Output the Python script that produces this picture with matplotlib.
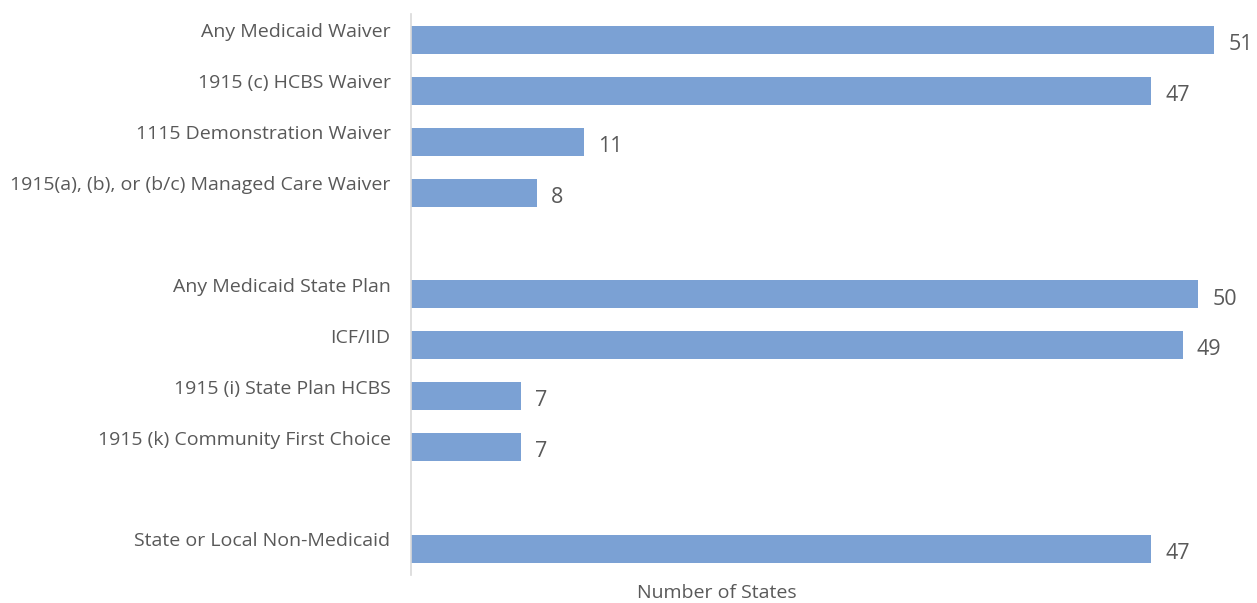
import matplotlib
matplotlib.use('Agg')
import matplotlib.pyplot as plt

plt.rcParams['font.family'] = ['Open Sans', 'DejaVu Sans']

# funding sources, top to bottom; None marks a spacer row between groups
categories = [
    "Any Medicaid Waiver",
    "1915 (c) HCBS Waiver",
    "1115 Demonstration Waiver",
    "1915(a), (b), or (b/c) Managed Care Waiver",
    None,
    "Any Medicaid State Plan",
    "ICF/IID",
    "1915 (i) State Plan HCBS",
    "1915 (k) Community First Choice",
    None,
    "State or Local Non-Medicaid",
]
values = [51, 47, 11, 8, None, 50, 49, 7, 7, None, 47]
x_label = "Number of States"

bar_color = '#7BA1D4'
text_color = '#595959'

fig = plt.figure(figsize=(12.57, 6.03), dpi=100)
ax = fig.add_axes([411 / 1257, 1 - 574.5 / 603, (1214 - 411) / 1257, (574.5 - 14.5) / 603])

for i, (cat, val) in enumerate(zip(categories, values)):
    if val is None:
        continue
    ax.barh(i, val, height=0.55, color=bar_color, edgecolor='none')
    ax.text(val + 0.9, i + 0.09, str(val), va='center', ha='left',
            fontsize=15.5, color=text_color)
    ax.text(-1.3, i - 0.15, cat, va='center', ha='right',
            fontsize=14, color=text_color)

ax.set_xlim(0, 51)
ax.set_ylim(len(categories) - 0.5, -0.5)
ax.set_xticks([])
ax.set_yticks([])
for side in ['top', 'right', 'bottom']:
    ax.spines[side].set_visible(False)
ax.spines['left'].set_color('#D9D9D9')
ax.spines['left'].set_linewidth(1.2)

fig.text(717 / 1257, 0.5 / 603, x_label, ha='center', va='bottom',
         fontsize=14, color=text_color)

fig.savefig('out.png', dpi=100)
